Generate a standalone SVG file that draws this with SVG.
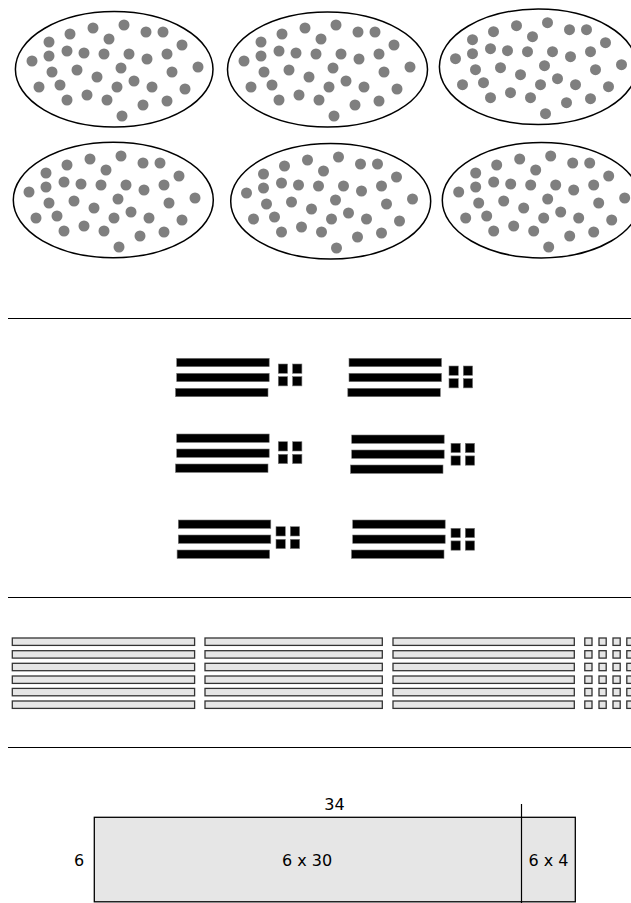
<svg xmlns="http://www.w3.org/2000/svg" xmlns:xlink="http://www.w3.org/1999/xlink" width="631" height="903" viewBox="0 0 631 903">
<style>
.ell{fill:none;stroke:#000;stroke-width:1.5}
.dot{fill:#7f7f7f}
.sep{stroke:#000;stroke-width:1}
.bar{fill:#000;stroke:#777;stroke-width:0.6}
.rod{fill:#e6e6e6;stroke:#333;stroke-width:1.3}
.area{fill:#e6e6e6;stroke:#000;stroke-width:1.3}
.lbl{font-family:"DejaVu Sans","Liberation Sans",sans-serif;font-size:16px;fill:#000}
</style>
<defs>
<g id="dots">
<circle class="dot" cx="124" cy="25" r="5.5"/><circle class="dot" cx="93" cy="28" r="5.5"/><circle class="dot" cx="70" cy="34" r="5.5"/><circle class="dot" cx="146" cy="32" r="5.5"/><circle class="dot" cx="163" cy="32" r="5.5"/><circle class="dot" cx="49" cy="42" r="5.5"/><circle class="dot" cx="109" cy="39" r="5.5"/><circle class="dot" cx="182" cy="45" r="5.5"/><circle class="dot" cx="67" cy="51" r="5.5"/><circle class="dot" cx="84" cy="53" r="5.5"/><circle class="dot" cx="49" cy="56" r="5.5"/><circle class="dot" cx="104" cy="54" r="5.5"/><circle class="dot" cx="129" cy="54" r="5.5"/><circle class="dot" cx="147" cy="59" r="5.5"/><circle class="dot" cx="167" cy="54" r="5.5"/><circle class="dot" cx="32" cy="61" r="5.5"/><circle class="dot" cx="198" cy="67" r="5.5"/><circle class="dot" cx="52" cy="72" r="5.5"/><circle class="dot" cx="77" cy="70" r="5.5"/><circle class="dot" cx="121" cy="68" r="5.5"/><circle class="dot" cx="172" cy="72" r="5.5"/><circle class="dot" cx="97" cy="77" r="5.5"/><circle class="dot" cx="134" cy="81" r="5.5"/><circle class="dot" cx="39" cy="87" r="5.5"/><circle class="dot" cx="60" cy="85" r="5.5"/><circle class="dot" cx="117" cy="87" r="5.5"/><circle class="dot" cx="152" cy="87" r="5.5"/><circle class="dot" cx="185" cy="89" r="5.5"/><circle class="dot" cx="87" cy="95" r="5.5"/><circle class="dot" cx="67" cy="100" r="5.5"/><circle class="dot" cx="107" cy="100" r="5.5"/><circle class="dot" cx="143" cy="105" r="5.5"/><circle class="dot" cx="167" cy="101" r="5.5"/><circle class="dot" cx="122" cy="116" r="5.5"/>
</g>
<g id="tens">
<rect class="bar" x="0" y="0" width="92.5" height="8.4"/>
<rect class="bar" x="0" y="15" width="92.5" height="8.4"/>
<rect class="bar" x="-1.2" y="30" width="92.5" height="8.4"/>
</g>
<g id="ones">
<rect class="bar" x="0" y="0" width="9.3" height="9.3"/>
<rect class="bar" x="14.3" y="0" width="9.3" height="9.3"/>
<rect class="bar" x="0" y="12.6" width="9.3" height="9.3"/>
<rect class="bar" x="14.3" y="12.6" width="9.3" height="9.3"/>
</g>
<g id="rodrow">
<rect class="rod" x="12.3" y="0" width="182.3" height="7.4"/>
<rect class="rod" x="205" y="0" width="177.3" height="7.4"/>
<rect class="rod" x="393" y="0" width="181.3" height="7.4"/>
<rect class="rod" x="584.8" y="0" width="7.2" height="7.4"/>
<rect class="rod" x="599" y="0" width="7.2" height="7.4"/>
<rect class="rod" x="613" y="0" width="7.2" height="7.4"/>
<rect class="rod" x="626.8" y="0" width="7.2" height="7.4"/>
</g>
</defs>

<g id="set1"><ellipse class="ell" cx="114.2" cy="69.3" rx="98.8" ry="57.7"/><use xlink:href="#dots"/></g>
<g id="set2"><ellipse class="ell" cx="327.5" cy="69.5" rx="100" ry="57.5"/><use xlink:href="#dots" transform="translate(212,0)"/></g>
<g id="set3"><ellipse class="ell" cx="538.2" cy="66.8" rx="98.8" ry="57.7"/><use xlink:href="#dots" transform="translate(423.5,-2.3)"/></g>
<g id="set4"><ellipse class="ell" cx="113.3" cy="200" rx="100" ry="57.7"/><use xlink:href="#dots" transform="translate(-3,131)"/></g>
<g id="set5"><ellipse class="ell" cx="330.7" cy="201.2" rx="100" ry="57.8"/><use xlink:href="#dots" transform="translate(214.5,132)"/></g>
<g id="set6"><ellipse class="ell" cx="541.3" cy="200.2" rx="99" ry="57.7"/><use xlink:href="#dots" transform="translate(426.7,131)"/></g>

<g id="separators">
<line class="sep" x1="8" y1="318.5" x2="631" y2="318.5"/>
<line class="sep" x1="8" y1="597.5" x2="631" y2="597.5"/>
<line class="sep" x1="8" y1="747.5" x2="631" y2="747.5"/>
</g>

<g id="group1"><use xlink:href="#tens" transform="translate(176.7,358.3)"/><use xlink:href="#ones" transform="translate(278.3,364)"/></g>
<g id="group2"><use xlink:href="#tens" transform="translate(349,358.3)"/><use xlink:href="#ones" transform="translate(449,366)"/></g>
<g id="group3"><use xlink:href="#tens" transform="translate(176.7,434)"/><use xlink:href="#ones" transform="translate(278.3,441.7)"/></g>
<g id="group4"><use xlink:href="#tens" transform="translate(351.7,435)"/><use xlink:href="#ones" transform="translate(451,443.3)"/></g>
<g id="group5"><use xlink:href="#tens" transform="translate(178.3,520)"/><use xlink:href="#ones" transform="translate(276,526.7)"/></g>
<g id="group6"><use xlink:href="#tens" transform="translate(352.7,520)"/><use xlink:href="#ones" transform="translate(451,528.3)"/></g>

<g id="rods">
<use xlink:href="#rodrow" transform="translate(0,638)"/>
<use xlink:href="#rodrow" transform="translate(0,650.7)"/>
<use xlink:href="#rodrow" transform="translate(0,663.3)"/>
<use xlink:href="#rodrow" transform="translate(0,676)"/>
<use xlink:href="#rodrow" transform="translate(0,688.4)"/>
<use xlink:href="#rodrow" transform="translate(0,701)"/>
</g>

<g id="area-model">
<rect class="area" x="94.3" y="817.3" width="481" height="84.5"/>
<line x1="521.5" y1="804" x2="521.5" y2="903" stroke="#000" stroke-width="1.2"/>
<text class="lbl" x="334.5" y="810" text-anchor="middle">34</text>
<text class="lbl" x="79" y="866" text-anchor="middle">6</text>
<text class="lbl" x="307" y="866" text-anchor="middle">6 x 30</text>
<text class="lbl" x="548.5" y="866" text-anchor="middle">6 x 4</text>
</g>
</svg>
